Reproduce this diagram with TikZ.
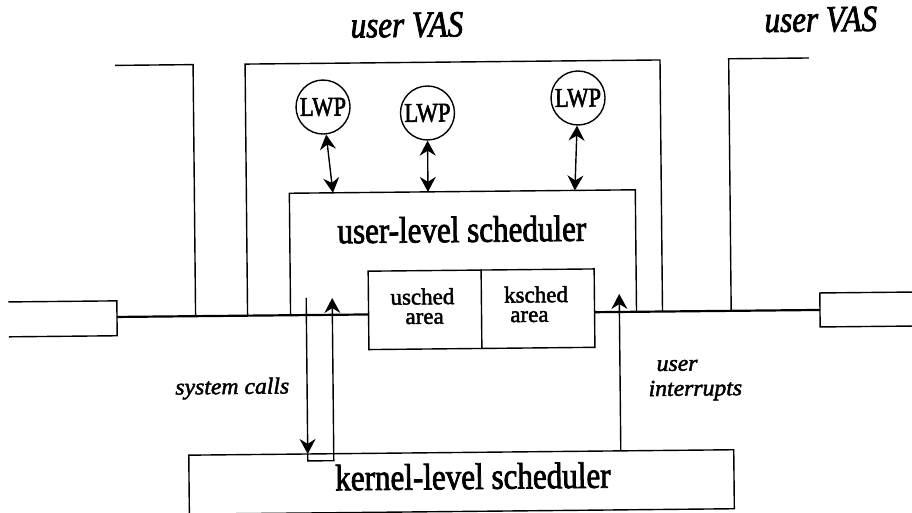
\documentclass[tikz,border=0pt]{standalone}
\usepackage{fontspec}
\setmainfont{Liberation Serif}
\newfontfamily\bigser{Liberation Serif}[FakeStretch=0.84,FakeBold=2]
\newfontfamily\smallser{Liberation Serif}[FakeBold=2]
\newfontfamily\labser{Liberation Serif}[FakeBold=2,FakeStretch=1.03]
\usetikzlibrary{arrows.meta}
\begin{document}
\begin{tikzpicture}[x=1pt,y=-1pt,line width=1.4pt,
  >={Stealth[length=15pt,width=16pt,inset=5pt]},
  big/.style={inner sep=0pt,font=\bigser\fontsize{37}{40}\selectfont},
  bigit/.style={inner sep=0pt,font=\bigser\itshape\fontsize{37}{40}\selectfont},
  small/.style={inner sep=0pt,align=center,font=\smallser\fontsize{23}{19.5}\selectfont},
  lab/.style={inner sep=0pt,font=\labser\itshape\fontsize{23}{25}\selectfont},
  lwp/.style={circle,draw,minimum size=54pt,inner sep=0pt,font=\bigser\fontsize{27}{27}\selectfont},
  bus/.style={line width=2.2pt}]
\useasboundingbox (0,0) rectangle (912,512);
\begin{scope}[rotate around={0.57:(456,256)},transform shape]
% coordinates of the open frames
\coordinate (lbA) at (117,62);
\coordinate (lbB) at (195,62);
\coordinate (lbC) at (195,313.6);
\coordinate (vA) at (247,313.6);
\coordinate (vB) at (247,62);
\coordinate (vC) at (662,62);
\coordinate (vD) at (662,313.6);
\coordinate (uA) at (290,313.6);
\coordinate (uB) at (290,191.6);
\coordinate (uC) at (636,191.6);
\coordinate (uD) at (636,313.6);
\coordinate (rA) at (811,61.5);
\coordinate (rB) at (730.7,61.5);
\coordinate (rC) at (730.7,313.6);
% small end rectangles
\coordinate (lrA) at (8,297.5);
\coordinate (lrB) at (116.4,297.5);
\coordinate (lrC) at (116.4,332.4);
\coordinate (lrD) at (8,332.4);
\coordinate (lrM) at (116.4,313.6);
\coordinate (rrA) at (920,296.6);
\coordinate (rrB) at (819.5,296.6);
\coordinate (rrC) at (819.5,330.6);
\coordinate (rrD) at (920,330.6);
\coordinate (rrM) at (819.5,313.6);

\draw (lbA) -- (lbB) -- (lbC);
\draw (vA) -- (vB) -- (vC) -- (vD);
\draw (uA) -- (uB) -- (uC) -- (uD);
\draw (rA) -- (rB) -- (rC);
\draw (lrA) -- (lrB) -- (lrC) -- (lrD);
\draw (rrA) -- (rrB) -- (rrC) -- (rrD);

% sched area box
\node[draw,minimum width=226pt,minimum height=78.4pt,inner sep=0pt] (ub) at (481,309.5) {};
\draw (ub.north) -- (ub.south);
\draw[bus] (lrM) -- (ub.west |- lrM);
\draw[bus] (ub.east |- rrM) -- (rrM);
\node[small,anchor=north] (us) at (422,287.4) {usched\\\hspace{4pt}area};
\node[small,anchor=north west,align=left] (ks) at (503,286.5) {ksched\\\hspace{6pt}area};

% texts
\node[bigit,anchor=base] (vas1) at (409.2,36.5) {user VAS};
\node[bigit,anchor=base] (vas2) at (823.2,35.1) {user VAS};
\node[big,anchor=base] (uls) at (462.1,242.1) {user-level scheduler};

% LWPs
\node[lwp] (l1) at (324.5,105.7) {LWP};
\node[lwp] (l2) at (428.9,112.7) {LWP};
\node[lwp] (l3) at (579.6,99.2) {LWP};
\coordinate (a1) at (333.6,191.6);
\coordinate (a2) at (428.6,191.6);
\coordinate (a3) at (575.6,191.6);
\draw[<->] (l1) -- (a1);
\draw[<->] (l2) -- (a2);
\draw[<->] (l3) -- (a3);

% kernel
\node[draw,minimum width=545pt,minimum height=59pt,inner sep=0pt] (kern) at (459.3,482) {};
\node[big,anchor=base] (kls) at (470.7,489.2) {kernel-level scheduler};
\coordinate (nA) at (305.8,452.5);
\coordinate (nB) at (305.8,459.5);
\coordinate (nC) at (331.8,459.5);
\coordinate (nD) at (331.8,452.5);
\draw (nA) -- (nB) -- (nC) -- (nD);

% system calls
\coordinate (s1) at (305.8,296.5);
\coordinate (s2) at (331.8,296.8);
\draw[->] (s1) -- (nA);
\draw[->] (nD) -- (s2);
\node[lab,anchor=base east] (sc) at (288.6,391.8) {system calls};

% user interrupts
\coordinate (i1) at (618.9,452.5);
\coordinate (i2) at (618.9,295.6);
\draw[->] (i1) -- (i2);
\node[lab,anchor=base west] (ui1) at (654.9,373) {user};
\node[lab,anchor=base west] (ui2) at (646.6,398) {interrupts};
\end{scope}
\end{tikzpicture}
\end{document}
